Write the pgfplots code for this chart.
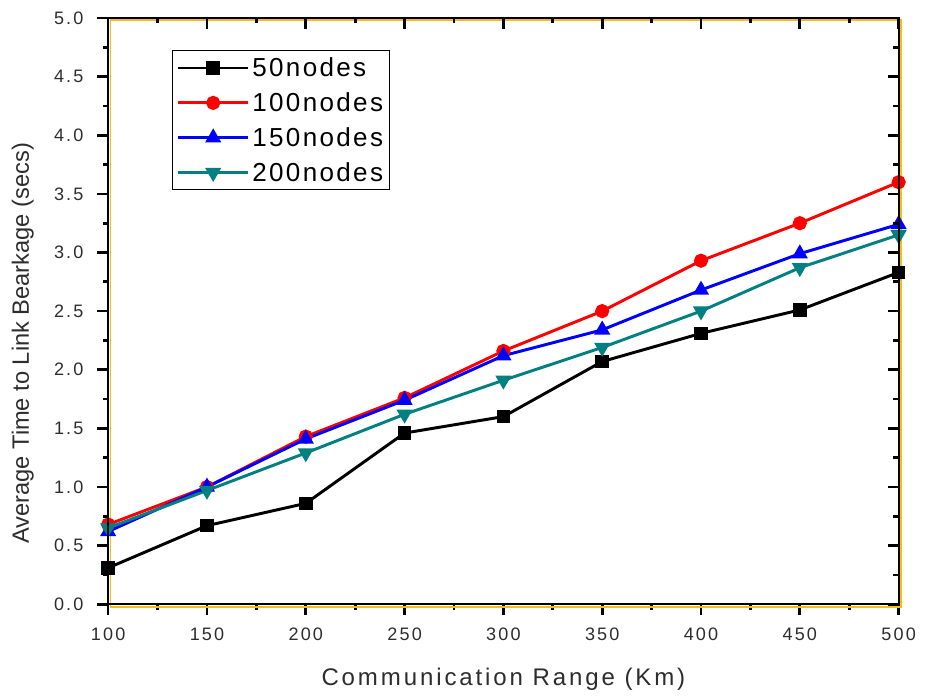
\documentclass[border=0pt]{standalone}
\usepackage{pgfplots}
\pgfplotsset{compat=1.18}
\usepackage{fontspec}
\setmainfont{Liberation Sans}
\newfontfamily\wide[LetterSpace=12]{Liberation Sans}
\newfontfamily\legfont[LetterSpace=9]{Liberation Sans}
\definecolor{tealc}{RGB}{0,128,128}
\definecolor{goldc}{RGB}{245,190,20}
\definecolor{txt}{RGB}{45,45,45}

\begin{document}
\begin{tikzpicture}
\useasboundingbox (-81pt,-69pt) rectangle (614pt,452.5pt);
\pgfplotsset{
  base/.style={
    width=592pt, height=439pt, scale only axis,
    xmin=100, xmax=500, ymin=0, ymax=5,
    xtick={100,150,...,500},
    ytick={0,0.5,...,5},
    minor x tick num=1, minor y tick num=1,
    major tick length=8pt, minor tick length=4pt,
    every tick/.style={black, line width=2pt},
    axis line style={black, line width=1.3pt},
  }
}
\begin{axis}[base,
    clip=false,
    tick align=outside,
    xtick pos=left, ytick pos=left,
    xlabel={\wide Communication Range (Km)},
    ylabel={Average Time to Link Bearkage (secs)},
    xlabel style={font=\fontsize{18}{21}\selectfont, text=txt,
      at={(axis description cs:0.5,-0.1276)}, anchor=center},
    ylabel style={font=\fontsize{17.7}{21}\selectfont, text=txt,
      at={(axis description cs:-0.108,0.445)}, anchor=center},
    tick label style={font=\wide\fontsize{13.5}{16}\selectfont, text=txt},
    xticklabel style={yshift=-6pt},
    yticklabel style={xshift=-7pt},
    /pgf/number format/assume math mode=true,
    /pgf/number format/.cd, fixed, fixed zerofill, precision=1, /pgfplots/.cd,
    xticklabel={\pgfmathprintnumber[fixed, precision=0]{\tick}},
    legend style={at={(0.081,0.945)}, anchor=north west, draw=black, line width=0.9pt,
      font=\legfont\fontsize{19.5}{22}\selectfont, row sep=6.5pt, inner sep=3pt},
    legend cell align=left,
    legend image code/.code={
      \draw[mark repeat=2,mark phase=2] plot coordinates {(0cm,0cm)(0.92cm,0cm)(1.84cm,0cm)};
    },
]
\draw[goldc, line width=1.4pt] ([xshift=1.8pt,yshift=-1.8pt]rel axis cs:0,0) rectangle ([xshift=1.8pt,yshift=-1.8pt]rel axis cs:1,1);
\addplot[black, line width=2.2pt, mark=square*, mark size=4pt] coordinates {
 (100,0.31)(150,0.67)(200,0.86)(250,1.46)(300,1.60)(350,2.07)(400,2.31)(450,2.51)(500,2.83)};
\addplot[red, line width=2.2pt, mark=*, mark size=4.2pt] coordinates {
 (100,0.68)(150,1.00)(200,1.43)(250,1.76)(300,2.16)(350,2.50)(400,2.93)(450,3.25)(500,3.60)};
\addplot[blue, line width=2.2pt, mark=triangle*, mark size=4.8pt] coordinates {
 (100,0.62)(150,1.00)(200,1.41)(250,1.74)(300,2.12)(350,2.34)(400,2.68)(450,2.99)(500,3.24)};
\addplot[tealc, line width=2.2pt, mark=triangle*, mark size=4.8pt, mark options={rotate=180}] coordinates {
 (100,0.65)(150,0.97)(200,1.29)(250,1.62)(300,1.91)(350,2.19)(400,2.50)(450,2.87)(500,3.15)};
\legend{50nodes,100nodes,150nodes,200nodes}
\end{axis}
\begin{axis}[base,
    tick align=inside,
    xtick pos=right, ytick pos=right,
    xticklabels={}, yticklabels={},
]
\end{axis}
\end{tikzpicture}
\end{document}
